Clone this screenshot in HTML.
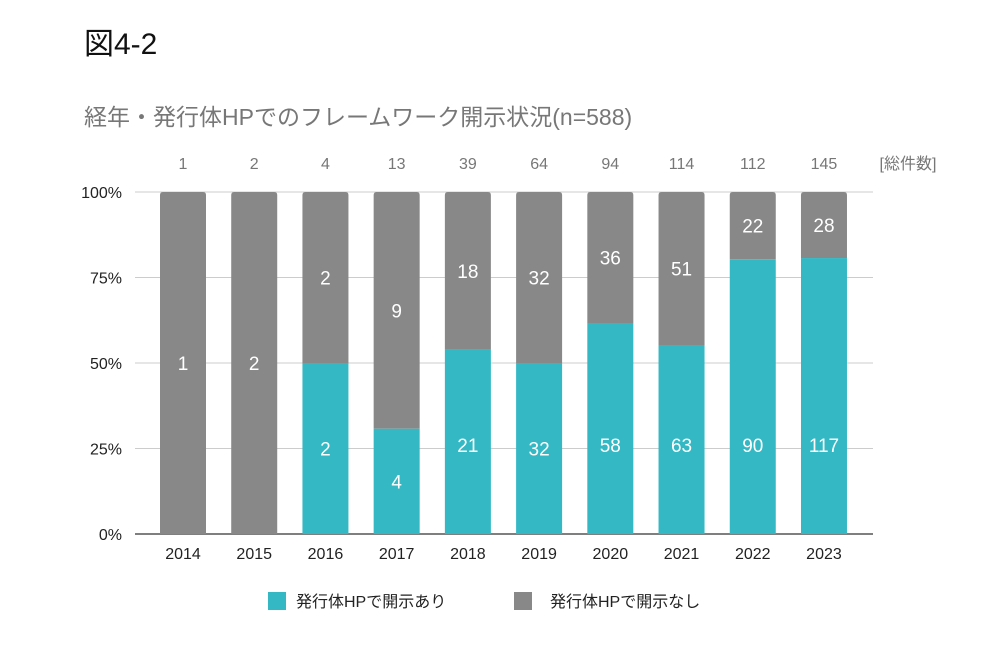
<!DOCTYPE html>
<html><head><meta charset="utf-8"><style>
body{margin:0;background:#fff;font-family:"Liberation Sans","Noto Sans CJK JP",sans-serif}
</style></head><body>
<svg width="1000" height="661" viewBox="0 0 1000 661" xmlns="http://www.w3.org/2000/svg" style="font-family:'Liberation Sans','Noto Sans CJK JP',sans-serif">
<text x="84" y="54" font-size="30" fill="#111">図4-2</text>
<text x="84" y="125" font-size="23" fill="#777">経年・発行体HPでのフレームワーク開示状況(n=588)</text>
<text x="908" y="169" font-size="16" fill="#777" text-anchor="middle">[総件数]</text>
<g id="grid"></g><g id="bars"></g><g id="labels"></g>
<rect x="268" y="592" width="18" height="18" fill="#34b8c4"/>
<text x="296" y="607" font-size="16" fill="#222">発行体HPで開示あり</text>
<rect x="514" y="592" width="18" height="18" fill="#888"/>
<text x="550" y="607" font-size="16" fill="#222">発行体HPで開示なし</text>
</svg>
<script>
const years=["2014","2015","2016","2017","2018","2019","2020","2021","2022","2023"];
const disclosed=[0,0,2,4,21,32,58,63,90,117];
const notDisclosed=[1,2,2,9,18,32,36,51,22,28];
const totals=[1,2,4,13,39,64,94,114,112,145];
const yTicks=["0%","25%","50%","75%","100%"];
const NS="http://www.w3.org/2000/svg";
const x0=135,x1=873,yTop=192,yBot=534;
const step=71.22;
const xc=i=>183+step*i;
const yv=p=>yBot-(yBot-yTop)*p;
function mk(t,a,parent){const e=document.createElementNS(NS,t);for(const k in a)e.setAttribute(k,a[k]);document.getElementById(parent).appendChild(e);return e;}
yTicks.forEach((t,i)=>{const y=yv(i/4);
 const l=mk('line',{x1:x0,x2:x1,y1:y,y2:y,stroke:i==0?'#555':'#ccc','stroke-width':i==0?1.5:1},'grid');
 
 
 const tx=mk('text',{x:122,y:y+6,'font-size':16,fill:'#222','text-anchor':'end'},'grid');tx.textContent=t;
 
 
});
const bw=46;
years.forEach((yr,i)=>{
 const tot=disclosed[i]+notDisclosed[i];const p=disclosed[i]/tot;const cx=xc(i);
 const g=mk('path',{d:`M${cx-bw/2},${yv(p)} V${yTop+3} Q${cx-bw/2},${yTop} ${cx-bw/2+3},${yTop} H${cx+bw/2-3} Q${cx+bw/2},${yTop} ${cx+bw/2},${yTop+3} V${yv(p)} Z`,fill:'#888'},'bars');
 
 
 if(disclosed[i]>0){const r=mk('rect',{x:cx-bw/2,y:yv(p),width:bw,height:yBot-yv(p),fill:'#34b8c4'},'bars');
  
  
  const ly=Math.max((yv(p)+yBot)/2,yv(0.26));
  const t=mk('text',{x:cx,y:ly+7,'font-size':19,fill:'#fff','text-anchor':'middle'},'labels');t.textContent=disclosed[i];
  
  }
 const ly2=(yv(p)+yTop)/2;
 const t2=mk('text',{x:cx,y:ly2+7,'font-size':19,fill:'#fff','text-anchor':'middle'},'labels');t2.textContent=notDisclosed[i];
 
 
 const tt=mk('text',{x:cx,y:169,'font-size':16,fill:'#777','text-anchor':'middle'},'labels');tt.textContent=totals[i];
 
 
 const xl=mk('text',{x:cx,y:559,'font-size':16,fill:'#222','text-anchor':'middle'},'labels');xl.textContent=yr;
 
 
});
</script>
</body></html>
